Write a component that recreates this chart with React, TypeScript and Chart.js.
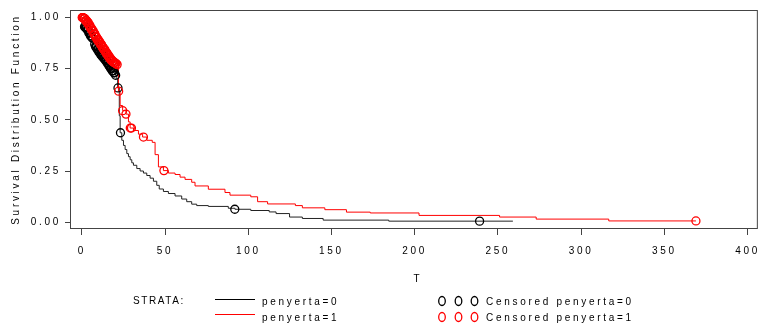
import React, { useEffect, useRef } from "react";
import { Chart, registerables } from "chart.js";

Chart.register(...registerables);

// ---- data ----
const xTickValues = [0, 50, 100, 150, 200, 250, 300, 350, 400];
const yTickValues = [0, 0.25, 0.5, 0.75, 1];

const blackTime = [
  0, 0.5, 1, 1.5, 2, 3, 4, 5, 6, 7, 8, 9, 10, 11, 12, 13, 14, 15, 16, 17, 18, 19, 20, 21, 21.5, 22.5, 23,
  24, 25, 26, 27, 28, 29, 30, 31, 33, 35, 37, 39, 41, 43, 45, 46.5, 49, 52, 56, 60, 63, 66, 69, 76, 88, 92,
  101.5, 112.6, 116.7, 124.8, 132.5, 145, 184.4, 259,
];
const blackSurv = [
  1.0, 0.98, 0.965, 0.955, 0.95, 0.94, 0.925, 0.91, 0.9, 0.87, 0.858, 0.845, 0.832, 0.82, 0.81, 0.8, 0.79, 0.778, 0.765, 0.752, 0.74, 0.73, 0.718, 0.7, 0.656, 0.52, 0.437,
  0.4, 0.375, 0.355, 0.335, 0.32, 0.305, 0.29, 0.278, 0.262, 0.25, 0.24, 0.228, 0.215, 0.2, 0.18, 0.162, 0.15, 0.14, 0.128, 0.113, 0.1, 0.088, 0.081, 0.077, 0.068, 0.063,
  0.057, 0.05, 0.042, 0.025, 0.018, 0.01, 0.005, 0.005,
];

const redTime = [
  0, 1, 2, 3, 4, 5, 6, 7, 8, 9, 10, 11, 12, 13, 14, 15, 16, 17, 18, 19, 20, 21, 22, 23, 24.5, 26.5, 28, 29,
  31, 34, 36.5, 39, 42.3, 44, 46, 49, 52, 56, 59, 62, 66, 68, 76, 86, 89, 101.5, 105.6, 111.6, 128.3, 132.5,
  146, 159, 173.3, 202.6, 251, 273, 316.6, 369,
];
const redSurv = [
  1.0, 0.995, 0.985, 0.975, 0.962, 0.948, 0.935, 0.92, 0.905, 0.892, 0.88, 0.868, 0.855, 0.843, 0.83, 0.818, 0.806, 0.795, 0.786, 0.78, 0.775, 0.77, 0.64, 0.57, 0.545, 0.528, 0.49, 0.46,
  0.448, 0.43, 0.416, 0.4, 0.39, 0.33, 0.27, 0.252, 0.24, 0.233, 0.22, 0.209, 0.195, 0.177, 0.161, 0.145, 0.132, 0.124, 0.1, 0.089, 0.081, 0.07,
  0.061, 0.049, 0.045, 0.033, 0.025, 0.015, 0.006, 0.006,
];

const blackCensTime = [
  1.6, 1.9, 2.2, 2.6, 2.9, 3.2, 3.6, 3.9, 4.2, 4.6, 4.9, 5.2, 5.6, 5.9, 6.2, 6.6, 7.7, 8.2, 8.6, 8.9, 9.2, 9.6, 9.9, 10.2, 10.6, 10.9,
  11.2, 11.6, 11.9, 12.2, 12.6, 12.9, 13.2, 13.6, 13.9, 14.2, 14.6, 14.9, 15.2, 15.6, 15.9, 16.2, 16.6, 16.9, 17.2, 17.6, 17.9,
  18.2, 18.6, 18.9, 19.2, 19.6, 20.3, 21.7, 23.2, 91.9, 239,
];
const blackCensSurv = [
  0.955, 0.955, 0.95, 0.95, 0.95, 0.94, 0.94, 0.94, 0.925, 0.925, 0.925, 0.91, 0.91, 0.91, 0.9, 0.9, 0.87, 0.858, 0.858, 0.858, 0.845, 0.845, 0.845, 0.832, 0.832, 0.832,
  0.82, 0.82, 0.82, 0.81, 0.81, 0.81, 0.8, 0.8, 0.8, 0.79, 0.79, 0.79, 0.778, 0.778, 0.778, 0.765, 0.765, 0.765, 0.752, 0.752, 0.752,
  0.74, 0.74, 0.74, 0.73, 0.73, 0.718, 0.656, 0.437, 0.063, 0.005,
];

const redCensTime = [
  0.2, 0.4, 0.6, 0.8, 1.2, 1.4, 1.6, 1.8, 2.2, 2.4, 2.6, 2.8, 3.2, 3.4, 3.6, 3.8, 4.2, 4.4, 4.6, 4.8, 5.2, 5.4, 5.6, 5.8,
  6.2, 6.4, 6.6, 6.8, 7.2, 7.4, 7.6, 7.8, 8.2, 8.4, 8.6, 8.8, 9.2, 9.4, 9.6, 9.8, 10.2, 10.4, 10.6, 10.8,
  11.2, 11.4, 11.6, 11.8, 12.2, 12.4, 12.6, 12.8, 13.2, 13.4, 13.6, 13.8, 14.2, 14.4, 14.6, 14.8, 15.2, 15.4, 15.6, 15.8,
  16.2, 16.4, 16.6, 16.8, 17.2, 17.4, 17.6, 17.8, 18.2, 18.4, 18.6, 18.8, 19.2, 19.4, 19.6, 19.8,
  20.2, 20.6, 21.2, 22.1, 24.5, 26.5, 29.1, 29.8, 37, 49.3, 369,
];
const redCensSurv = [
  1.0, 1.0, 1.0, 1.0, 0.995, 0.995, 0.995, 0.995, 0.985, 0.985, 0.985, 0.985, 0.975, 0.975, 0.975, 0.975, 0.962, 0.962, 0.962, 0.962, 0.948, 0.948, 0.948, 0.948,
  0.935, 0.935, 0.935, 0.935, 0.92, 0.92, 0.92, 0.92, 0.905, 0.905, 0.905, 0.905, 0.892, 0.892, 0.892, 0.892, 0.88, 0.88, 0.88, 0.88,
  0.868, 0.868, 0.868, 0.868, 0.855, 0.855, 0.855, 0.855, 0.843, 0.843, 0.843, 0.843, 0.83, 0.83, 0.83, 0.83, 0.818, 0.818, 0.818, 0.818,
  0.806, 0.806, 0.806, 0.806, 0.795, 0.795, 0.795, 0.795, 0.786, 0.786, 0.786, 0.786, 0.78, 0.78, 0.78, 0.78,
  0.775, 0.775, 0.77, 0.64, 0.545, 0.528, 0.46, 0.46, 0.416, 0.252, 0.006,
];

const yAxisTitle = "Survival Distribution Function";
const xAxisTitle = "T";
const legendTitle = "STRATA:";
const strataLabels = ["penyerta=0", "penyerta=1"];
const censLabels = ["Censored penyerta=0", "Censored penyerta=1"];
const strataColors = ["#000000", "#ff0000"];

const FONT = "'Liberation Sans', Arial, Helvetica, sans-serif";
const LS = "2.7px";

const toPts = (xs: number[], ys: number[]) => xs.map((x, i) => ({ x, y: ys[i] }));

export default function App() {
  const ref = useRef<HTMLCanvasElement>(null);

  useEffect(() => {
    document.body.style.margin = "0";
    const canvas = ref.current;
    if (!canvas) return;

    const framePlugin = {
      id: "sasFrame",
      beforeLayout(chart: any) {
        (chart.ctx as any).letterSpacing = LS;
      },
      beforeDraw(chart: any) {
        const ctx = chart.ctx as any;
        ctx.letterSpacing = LS;
        ctx.save();
        ctx.fillStyle = "#ffffff";
        ctx.fillRect(0, 0, chart.width, chart.height);
        ctx.restore();
      },
      afterDraw(chart: any) {
        const ctx = chart.ctx as any;
        const ca = chart.chartArea;
        ctx.save();
        ctx.letterSpacing = LS;
        // frame
        ctx.strokeStyle = "#444444";
        ctx.lineWidth = 1;
        ctx.strokeRect(ca.left + 0.5, ca.top + 0.5, ca.right - ca.left - 1, ca.bottom - ca.top - 1);

        ctx.fillStyle = "#000000";
        ctx.font = `10px ${FONT}`;
        ctx.textBaseline = "middle";

        // y axis title
        ctx.save();
        ctx.translate(16, (ca.top + ca.bottom) / 2);
        ctx.rotate(-Math.PI / 2);
        ctx.textAlign = "center";
        ctx.fillText(yAxisTitle, 0, 0);
        ctx.restore();

        // x axis title
        ctx.textAlign = "center";
        ctx.fillText(xAxisTitle, 418, 279);

        // legend
        ctx.textAlign = "left";
        ctx.save();
        ctx.letterSpacing = "1.6px";
        ctx.fillText(legendTitle, 133, 301);
        ctx.restore();
        const rows = [301, 317];
        const lineRows = [299.5, 314.5];
        for (let i = 0; i < 2; i++) {
          ctx.strokeStyle = strataColors[i];
          ctx.lineWidth = 1;
          ctx.beginPath();
          ctx.moveTo(215, lineRows[i]);
          ctx.lineTo(255, lineRows[i]);
          ctx.stroke();
          ctx.fillStyle = "#000000";
          ctx.fillText(strataLabels[i], 262, rows[i] + 1);

          ctx.strokeStyle = strataColors[i];
          ctx.lineWidth = 1.3;
          for (const cx of [442, 458.5, 474.5]) {
            ctx.beginPath();
            ctx.ellipse(cx, rows[i], 3.3, 4.5, 0, 0, Math.PI * 2);
            ctx.stroke();
          }
          ctx.fillStyle = "#000000";
          ctx.fillText(censLabels[i], 486, rows[i] + 1);
        }
        ctx.restore();
      },
    };

    const lineCommon = {
      type: "line" as const,
      stepped: "before" as const,
      borderWidth: 1,
      pointRadius: 0,
      fill: false,
      tension: 0,
    };
    const censCommon = {
      type: "line" as const,
      showLine: false,
      pointRadius: 4,
      pointHoverRadius: 4,
      pointBorderWidth: 1.3,
      pointStyle: "circle" as const,
      pointBackgroundColor: "rgba(0,0,0,0)",
    };

    const chart = new Chart(canvas, {
      type: "line",
      data: {
        datasets: [
          {
            ...censCommon,
            label: censLabels[1],
            data: toPts(redCensTime, redCensSurv),
            borderColor: strataColors[1],
            pointBorderColor: strataColors[1],
          },
          {
            ...censCommon,
            label: censLabels[0],
            data: toPts(blackCensTime, blackCensSurv),
            borderColor: strataColors[0],
            pointBorderColor: strataColors[0],
          },
          {
            ...lineCommon,
            label: strataLabels[1],
            data: toPts(redTime, redSurv),
            borderColor: strataColors[1],
          },
          {
            ...lineCommon,
            label: strataLabels[0],
            data: toPts(blackTime, blackSurv),
            borderColor: "#222222",
          },
        ] as any,
      },
      options: {
        responsive: false,
        maintainAspectRatio: false,
        animation: false,
        devicePixelRatio: 1,
        layout: { padding: { left: 0, top: 5, right: 4, bottom: 0 } },
        plugins: {
          legend: { display: false },
          tooltip: { enabled: false },
          title: { display: false },
        },
        events: [],
        scales: {
          x: {
            type: "linear",
            min: -7.13,
            max: 406.2,
            afterBuildTicks: (s: any) => {
              s.ticks = xTickValues.map((v) => ({ value: v }));
            },
            afterFit: (s: any) => {
              s.height = 95;
            },
            grid: {
              display: true,
              drawOnChartArea: false,
              drawTicks: true,
              tickLength: 6,
              tickColor: "#444444",
              color: "#444444",
            },
            border: { display: false },
            ticks: {
              autoSkip: false,
              maxRotation: 0,
              minRotation: 0,
              padding: 10,
              color: "#000000",
              font: { family: FONT, size: 10 },
              callback: (v: any) => String(v),
            },
          },
          y: {
            type: "linear",
            min: -0.0334,
            max: 1.0368,
            afterBuildTicks: (s: any) => {
              s.ticks = yTickValues.map((v) => ({ value: v }));
            },
            afterFit: (s: any) => {
              s.width = 70;
            },
            grid: {
              display: true,
              drawOnChartArea: false,
              drawTicks: true,
              tickLength: 5,
              tickColor: "#444444",
              color: "#444444",
            },
            border: { display: false },
            ticks: {
              padding: 4,
              color: "#000000",
              font: { family: FONT, size: 10 },
              callback: (v: any) => Number(v).toFixed(2),
            },
          },
        },
      },
      plugins: [framePlugin as any],
    });

    return () => {
      chart.destroy();
    };
  }, []);

  return (
    <div style={{ position: "fixed", left: 0, top: 0, width: 770, height: 324, background: "#ffffff" }}>
      <canvas ref={ref} width={770} height={324} style={{ width: 770, height: 324, display: "block" }} />
    </div>
  );
}
